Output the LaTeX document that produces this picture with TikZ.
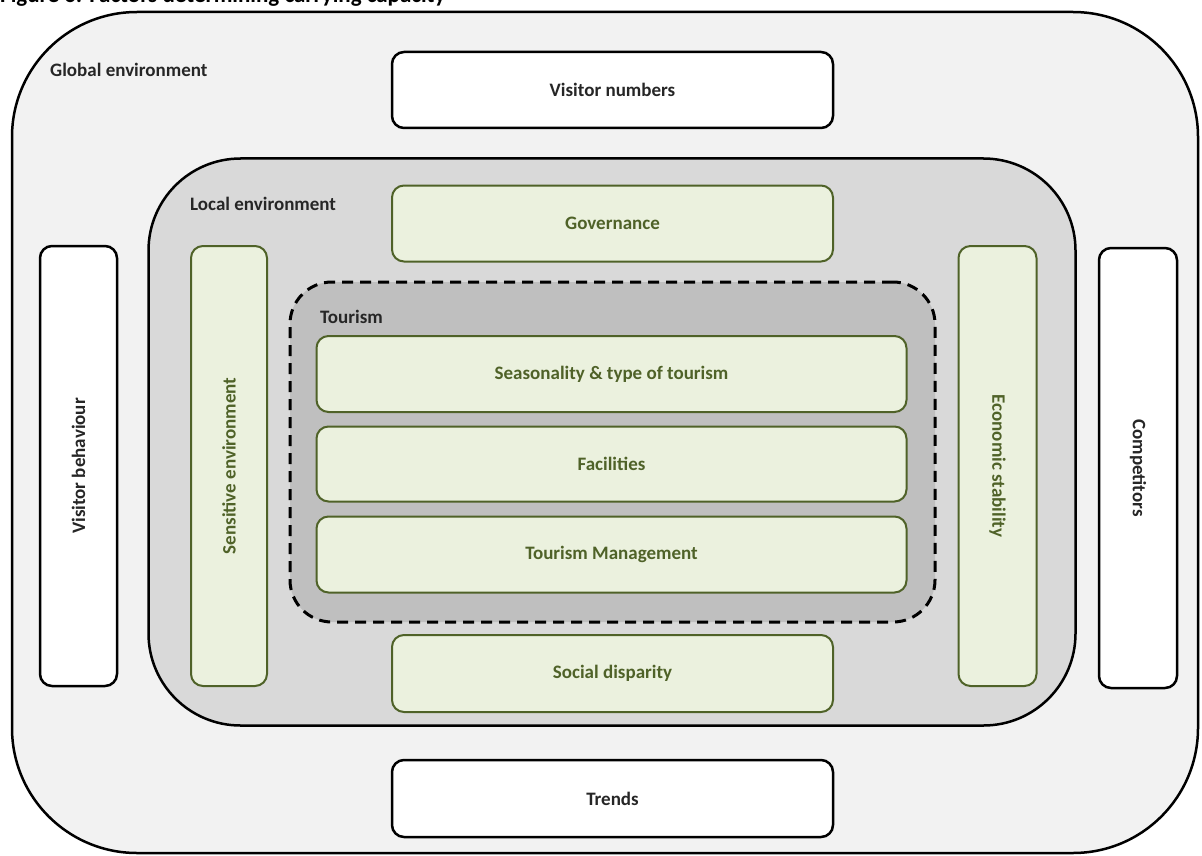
\documentclass[tikz,border=0pt]{standalone}
\usepackage{fontspec}
\setmainfont{Carlito}
\definecolor{globfill}{HTML}{F2F2F2}
\definecolor{locfill}{HTML}{D9D9D9}
\definecolor{tourfill}{HTML}{BFBFBF}
\definecolor{greenfill}{HTML}{EBF1DE}
\definecolor{greenline}{HTML}{4F6228}
\definecolor{darktext}{HTML}{262626}
\begin{document}
\begin{tikzpicture}[x=1pt,y=-1pt,
  txt/.style={font=\fontsize{19}{22}\selectfont\bfseries},
  whitebox/.style={txt, draw=black, line width=2.5pt, fill=white, rounded corners=12pt, inner sep=0pt, text=darktext},
  greenbox/.style={txt, draw=greenline, line width=2pt, fill=greenfill, rounded corners=12pt, inner sep=0pt, text=greenline},
  region/.style={draw=black, line width=2.5pt, inner sep=0pt},
  lbl/.style={txt, anchor=base west, inner sep=0pt, text=darktext}]
\useasboundingbox (0,0) rectangle (1202,856);
\node[anchor=base west, inner sep=0pt, text=black, font=\fontsize{23}{26}\selectfont\bfseries] (title) at (0,3) {Figure 6: Factors determining carrying capacity};
% regions
\node[region, fill=globfill, rounded corners=125pt, minimum width=1186pt, minimum height=841pt] (global) at (605,432.5) {};
\node[region, fill=locfill, rounded corners=92pt, minimum width=927pt, minimum height=567pt] (local) at (612,442) {};
\node[draw=black, line width=3pt, dash pattern=on 11pt off 7pt, fill=tourfill, rounded corners=42pt, inner sep=0pt, minimum width=645pt, minimum height=340pt] (tourism) at (612.5,452) {};
% labels
\node[lbl] (lglobal) at (50,77) {Global environment};
\node[lbl] (llocal) at (190,210) {Local environment};
\node[lbl] (ltour) at (320,323) {Tourism};
% white boxes
\node[whitebox, minimum width=441pt, minimum height=76pt] (vnum) at (612.5,90) {Visitor numbers};
\node[whitebox, minimum width=441pt, minimum height=77pt] (trends) at (612.5,798.5) {Trends};
\node[whitebox, rotate=90, minimum width=440pt, minimum height=77pt] (vbeh) at (78.5,466) {Visitor behaviour};
\node[whitebox, rotate=-90, minimum width=440pt, minimum height=78pt] (comp) at (1138,468) {Competitors};
% green boxes
\node[greenbox, minimum width=441pt, minimum height=76pt] (gov) at (612.5,223.5) {Governance};
\node[greenbox, minimum width=441pt, minimum height=77pt] (social) at (612.5,673.5) {Social disparity};
\node[greenbox, rotate=90, minimum width=440pt, minimum height=76pt] (sens) at (229,466) {Sensitive environment};
\node[greenbox, rotate=-90, minimum width=440pt, minimum height=78pt] (econ) at (997.5,466) {Economic stability};
\node[greenbox, minimum width=590pt, minimum height=76pt] (season) at (611.5,374) {Seasonality \& type of tourism};
\node[greenbox, minimum width=590pt, minimum height=75pt] (fac) at (611.5,464) {Facilities};
\node[greenbox, minimum width=590pt, minimum height=76pt] (tman) at (611.5,554.5) {Tourism Management};
\end{tikzpicture}
\end{document}
